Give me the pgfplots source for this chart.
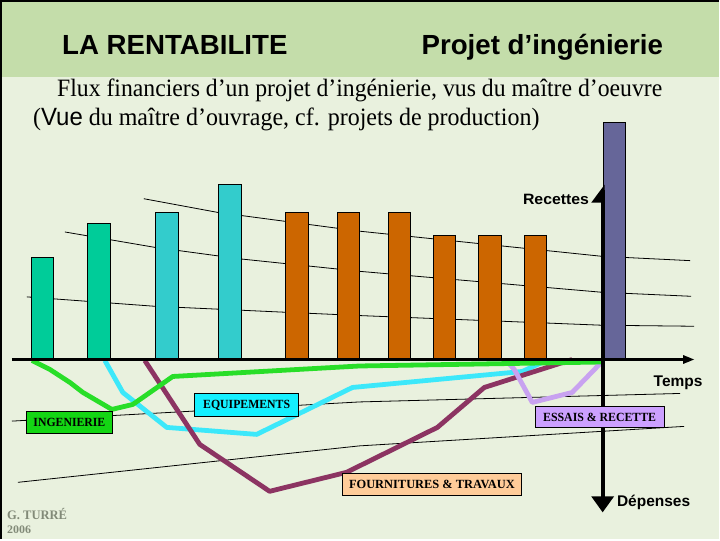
\documentclass[border=0pt]{standalone}
\usepackage{pgfplots}
\pgfplotsset{compat=1.18}
\usepackage{fontspec}
\usepackage{graphicx}
\setmainfont{Liberation Serif}
\newfontfamily\arial{Liberation Sans}
\definecolor{bg}{RGB}{233,241,222}
\definecolor{hdr}{RGB}{196,221,170}
\definecolor{barA}{RGB}{0,204,153}
\definecolor{barB}{RGB}{51,204,204}
\definecolor{barC}{RGB}{204,102,0}
\definecolor{barD}{RGB}{102,102,153}
\definecolor{cGreen}{RGB}{40,222,40}
\definecolor{cCyan}{RGB}{60,232,250}
\definecolor{cMaroon}{RGB}{140,52,98}
\definecolor{cLav}{RGB}{200,162,240}
\definecolor{bGreen}{RGB}{20,214,20}
\definecolor{bCyan}{RGB}{20,240,255}
\definecolor{bPeach}{RGB}{255,204,153}
\definecolor{bLav}{RGB}{204,160,255}
\definecolor{sig}{RGB}{130,138,120}
\newcommand{\lbl}[7]{\node[fill=#1,draw=black,line width=0.9pt,minimum width=#4pt,minimum height=#5pt,inner sep=0pt] at (axis cs:#2,#3) {\resizebox{#6pt}{\height}{\fontsize{12.5}{14}\selectfont\bfseries #7}};}
\begin{document}
\begin{tikzpicture}
\begin{axis}[scale only axis, width=720pt, height=540pt,
  xmin=0, xmax=720, ymin=-180, ymax=360, hide axis, clip=false]
% background
\fill[bg] (axis cs:0,-180) rectangle (axis cs:720,360);
\fill[hdr] (axis cs:0,283) rectangle (axis cs:720,360);
\draw[black, line width=2pt] (axis cs:1,-180) -- (axis cs:1,359) -- (axis cs:720,359);
% titles
\node[anchor=base west, inner sep=0pt] at (axis cs:62,305) {\arial\bfseries\fontsize{27.7}{32}\selectfont LA RENTABILITE};
\node[anchor=base west, inner sep=0pt] at (axis cs:422,305) {\arial\bfseries\fontsize{27.7}{32}\selectfont Projet d’ingénierie};
\node[anchor=base west, inner sep=0pt] at (axis cs:57,263) {\resizebox{606pt}{\height}{\fontsize{25}{30}\selectfont Flux financiers d’un projet d’ingénierie, vus du maître d’oeuvre}};
\node[anchor=base west, inner sep=0pt] at (axis cs:33,234) {\resizebox{507pt}{\height}{\fontsize{25}{30}\selectfont ({\arial Vue} du maître d’ouvrage, cf. projets de production)}};
% background texture lines
\addplot[black, line width=0.8pt] coordinates {(144,161) (218,147.3) (360,128.5) (603,103.3) (691,99)};
\addplot[black, line width=0.8pt] coordinates {(65,127.7) (155,112.3) (241,100.7) (360,88.3) (603,67.3) (692,63.3)};
\addplot[black, line width=0.8pt] coordinates {(27,62.7) (155,53.3) (286,47.3) (360,44) (603,34.3) (695,33.3)};
\addplot[black, line width=0.8pt] coordinates {(12,-61.7) (360,-42.5) (681,-34)};
\addplot[black, line width=0.8pt] coordinates {(18,-123) (360,-86.5) (685,-67)};
% bars (recettes)
\addplot[ybar, bar width=22.5, bar shift=0pt, fill=barA, draw=black, line width=0.8pt] coordinates {(42.5,102) (99,136)};
\addplot[ybar, bar width=22.5, bar shift=0pt, fill=barB, draw=black, line width=0.8pt] coordinates {(167,147) (230,175)};
\addplot[ybar, bar width=22.5, bar shift=0pt, fill=barC, draw=black, line width=0.8pt] coordinates {(297.5,147) (349,147) (400,147) (445,124) (490.5,124) (536,124)};
\addplot[ybar, bar width=22.5, bar shift=0pt, fill=barD, draw=black, line width=0.8pt] coordinates {(615,237)};
% expenditure curves
\addplot[cCyan, line width=4.8pt, line join=round] coordinates {(105,-1) (123,-33) (167,-68) (257,-75) (353,-28) (523,-12) (547,-1)};
\addplot[cMaroon, line width=4.8pt, line join=round] coordinates {(145,-1) (200,-85) (270,-132) (347,-113) (438,-68) (485,-28) (573,0)};
\addplot[cLav, line width=4.8pt, line join=round] coordinates {(507,-1) (515,-10) (533,-43) (573,-33) (603,-2)};
\addplot[cGreen, line width=4.8pt, line join=round] coordinates {(32,-1) (50,-10) (70,-23) (83,-33) (112,-50) (133,-45) (173,-17) (360,-6.5) (603,-2.5)};
% axes
\draw[black, line width=3.5pt] (axis cs:12,0) -- (axis cs:686,0);
\fill[black] (axis cs:684,4.5) -- (axis cs:695,0) -- (axis cs:684,-4.5) -- cycle;
\draw[black, line width=3.8pt] (axis cs:603.5,170) -- (axis cs:603.5,-140);
\fill[black] (axis cs:605.4,175) -- (axis cs:592,157) -- (axis cs:605.4,157) -- cycle;
\fill[black] (axis cs:592,-137) -- (axis cs:615,-137) -- (axis cs:603.5,-153) -- cycle;
\node[anchor=east, inner sep=0pt] at (axis cs:590,160) {\resizebox{66pt}{\height}{\arial\bfseries\fontsize{15}{18}\selectfont Recettes}};
\node[inner sep=0pt] at (axis cs:679,-23) {\arial\bfseries\fontsize{15.5}{18}\selectfont Temps};
\node[inner sep=0pt] at (axis cs:654.5,-143) {\arial\bfseries\fontsize{15.5}{18}\selectfont Dépenses};
% labels
\lbl{bGreen}{69.5}{-62.9}{87}{22.3}{72}{INGENIERIE}
\lbl{bCyan}{247}{-45.5}{104}{23}{87}{EQUIPEMENTS}
\lbl{bPeach}{432.5}{-125}{179}{22}{166}{FOURNITURES \& TRAVAUX}
\lbl{bLav}{600.5}{-57.5}{129}{21.6}{113}{ESSAIS \& RECETTE}
% signature
\node[anchor=west, inner sep=0pt, text=sig] at (axis cs:7,-155) {\resizebox{60pt}{\height}{\fontsize{13}{15}\selectfont\bfseries G.\ TURRÉ}};
\node[anchor=west, inner sep=0pt, text=sig] at (axis cs:7,-170.5) {\resizebox{24pt}{\height}{\fontsize{11.5}{13}\selectfont\bfseries 2006}};
\end{axis}
\end{tikzpicture}
\end{document}
